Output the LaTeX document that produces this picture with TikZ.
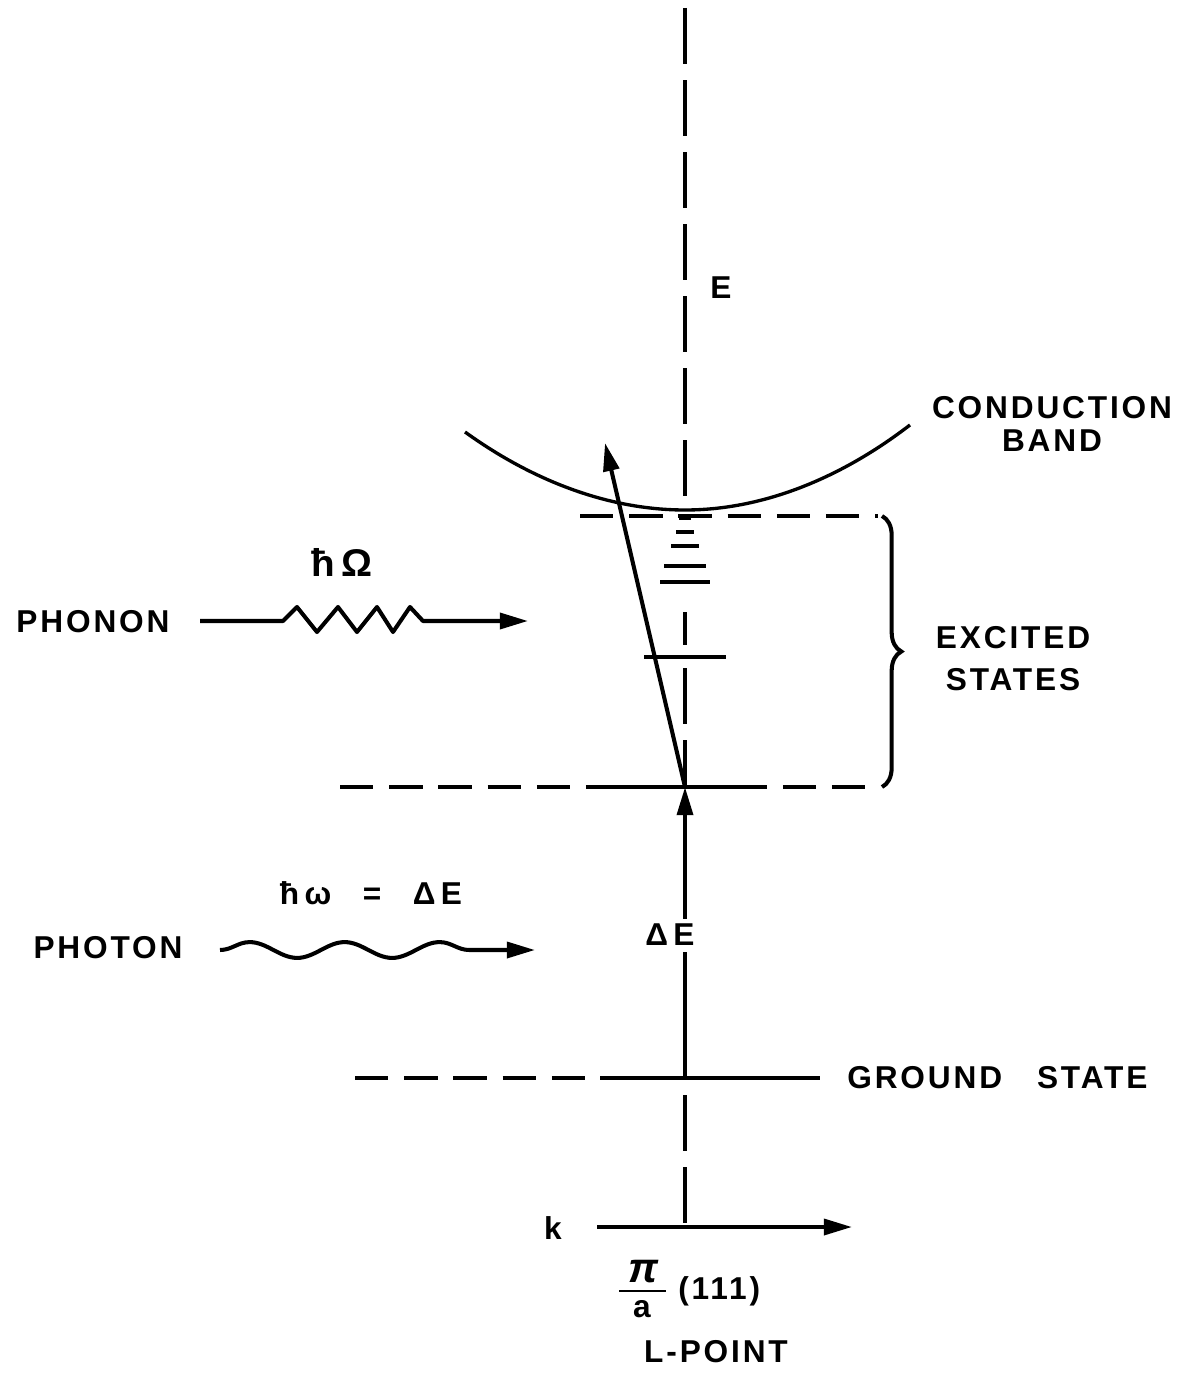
\documentclass[tikz,border=0pt]{standalone}
\usepackage{fontspec}
\setmainfont{Liberation Sans}
\newfontfamily\lblfont{Liberation Sans}[LetterSpace=9]
\usetikzlibrary{arrows.meta, positioning, decorations.pathmorphing, decorations.pathreplacing}

\begin{document}
\begin{tikzpicture}[
    x=0.02cm, y=-0.02cm,
    wire/.style={line width=2.3pt},
    band/.style={line width=1.9pt},
    axis/.style={line width=2.3pt, dash pattern=on 32pt off 9pt},
    lvl/.style={line width=2.3pt, dash pattern=on 19pt off 9pt},
    arr/.style={-{Triangle[length=16pt,width=9pt]}, line width=2.3pt},
    lbl/.style={font=\lblfont\bfseries\fontsize{18}{19}\selectfont,
                align=center, inner sep=0pt}
    ]
    \useasboundingbox (0,0) rectangle (1186,1378);

    % points on the energy axis
    \coordinate (top)   at (685,8);
    \coordinate (cbmin) at (685,510);
    \coordinate (exlo)  at (685,787);
    \coordinate (gs)    at (685,1078);
    \coordinate (korg)  at (685,1227);
    \coordinate (cbtip) at (605,443);

    % energy axis
    \draw[axis] (top) -- (cbmin);
    \draw[axis] (685,612) -- (685,645);
    \draw[axis] (685,668) -- (exlo);
    \draw[axis] (685,1095) -- (korg);
    \node[lbl, anchor=west] (Elbl) at (710,288) {E};

    % conduction band
    \draw[band] (465,432) parabola bend (cbmin) (910,425);
    \node[lbl] (cb) at (1052,424) {CONDUCTION\\BAND};

    % excited states
    \draw[lvl] (580,516) -- (878,516);
    \draw[lvl] (340,787) -- (878,787);
    \draw[wire] (612,787) -- (753,787);
    \foreach \y/\w in {518/6, 532/9, 546/14, 566/21, 582/25, 657/41}
      \draw[wire] (685-\w,\y) -- (685+\w,\y);
    \draw[wire, decorate, decoration={brace, amplitude=11pt}]
      (882,516) -- (882,787);
    \node[lbl] (exc) at (1013,659) {EXCITED\\[5pt]STATES};

    % transitions
    \node[lbl, fill=white, inner sep=3pt] (dE) at (670,935) {Δ\,E};
    \draw[wire] (gs) -- (gs |- dE.south);
    \draw[arr] (gs |- dE.north) -- (exlo);
    \draw[arr] (exlo) -- (cbtip);

    % ground state
    \draw[lvl] (355,1078) -- (600,1078);
    \draw[wire] (600,1078) -- (820,1078);
    \node[lbl, anchor=west] (gslbl) at (847,1078) {GROUND\ \ \ STATE};

    % phonon
    \node[lbl] (phonon) at (93,622) {PHONON};
    \node[lbl, font=\lblfont\bfseries\fontsize{22}{24}\selectfont] (hO) at (342,562) {ħ\,Ω};
    \coordinate (phin)  at (200,621);
    \coordinate (phout) at (528,621);
    \draw[arr, line join=round] (phin) -- (283,621)
      \foreach \x/\y in {297/607, 317/632, 338/607, 357/632, 377/607, 393/632, 410/607} { -- (\x,\y) }
      -- (423,621) -- (phout);

    % photon
    \node[lbl] (photon) at (108,948) {PHOTON};
    \node[lbl] (hw) at (371,893) {ħ\,ω\quad=\quad Δ\,E};
    \coordinate (phoin)  at (220,950);
    \coordinate (phoout) at (535,950);
    \draw[arr, decorate, decoration={snake, amplitude=4.5pt, segment length=1.9cm,
          post length=0.6cm}] (phoin) -- (phoout);

    % k axis
    \node[lbl] (k) at (553,1228) {k};
    \coordinate (kin)  at (597,1227);
    \coordinate (kout) at (852,1227);
    \draw[arr] (kin) -- (kout);
    \node[lbl, font=\lblfont\bfseries\itshape\fontsize{24}{24}\selectfont] (pinum) at (643,1272) {π};
    \node[lbl] (aden) at (642,1309) {a};
    \draw[line width=1.6pt] (619,1291) -- (666,1291);
    \node[lbl, anchor=west] (miller) at (678,1291) {(111)};
    \node[lbl] (lpoint) at (716,1352) {L-POINT};
  \end{tikzpicture}
\end{document}
